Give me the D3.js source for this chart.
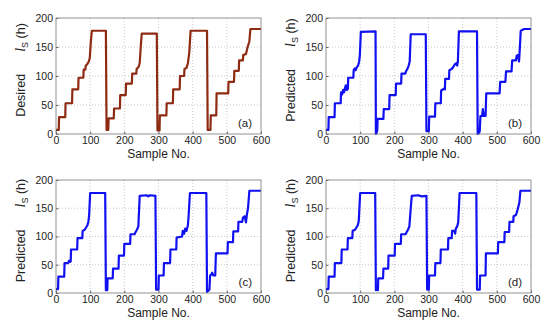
<!DOCTYPE html>
<html>
<head>
<meta charset="utf-8">
<script src="https://cdn.jsdelivr.net/npm/d3@7"></script>
<style>
  body { margin: 0; background: #fff; }
  svg { display: block; font-family: Arial, "Liberation Sans", sans-serif; }
</style>
</head>
<body>
<svg width="550" height="331"></svg>
<script>
const xTicks = [0, 100, 200, 300, 400, 500, 600];
const yTicks = [0, 50, 100, 150, 200];

// (a) desired ls, [sample, hours]
const desired = [[0,7],[8,7],[9,29],[27,29],[28,53],[47,53],[48,77],[65,77],[66,97],[80,97],[81,111],[86,111],[87,118],[91,120],[96,125],[99,132],[102,160],[105,178],[146,178],[148,7],[153,7],[154,27],[169,27],[170,44],[187,44],[188,67],[204,67],[205,87],[222,87],[223,104],[235,104],[236,112],[242,116],[245,122],[248,150],[251,173],[295,173],[297,6],[303,6],[304,32],[323,32],[324,53],[342,53],[343,77],[362,77],[363,100],[375,100],[376,112],[382,114],[386,122],[390,140],[394,178],[442,178],[444,7],[452,7],[453,32],[469,32],[470,70],[504,70],[505,90],[521,90],[522,109],[535,109],[536,127],[547,127],[548,136],[556,138],[560,148],[566,160],[569,181],[600,181]];

// (b) predicted
const predB = [[0,7],[7,7],[8,29],[25,29],[26,53],[43,53],[44,72],[47,68],[50,76],[53,72],[56,80],[58,84],[61,76],[64,78],[65,97],[80,97],[81,110],[84,113],[87,110],[90,115],[94,118],[97,125],[99,135],[102,176],[145,177],[146,0],[148,2],[150,6],[151,26],[168,26],[169,43],[185,43],[186,67],[204,67],[205,87],[220,87],[221,104],[232,104],[234,108],[238,112],[242,118],[245,125],[248,172],[292,172],[294,5],[301,5],[302,30],[319,30],[320,53],[336,53],[337,75],[345,78],[348,77],[349,95],[360,95],[361,110],[368,112],[372,115],[377,120],[381,122],[384,118],[386,125],[389,177],[442,177],[444,0],[448,2],[450,5],[452,31],[457,31],[459,43],[462,31],[467,31],[469,70],[508,70],[510,90],[525,90],[527,108],[543,108],[545,127],[556,127],[558,135],[562,136],[565,125],[567,145],[570,178],[580,181],[600,181]];

// (c) predicted
const predC = [[0,7],[6,7],[7,29],[24,29],[25,53],[36,53],[38,57],[41,55],[43,56],[44,77],[62,77],[63,97],[77,97],[78,110],[84,112],[88,116],[92,120],[95,127],[97,138],[100,177],[144,177],[146,5],[150,5],[151,26],[166,26],[167,43],[183,43],[184,66],[199,66],[200,87],[217,87],[218,104],[230,104],[233,108],[237,112],[241,118],[245,172],[265,173],[270,171],[275,173],[291,172],[293,6],[300,6],[301,31],[315,31],[316,53],[334,53],[335,77],[352,77],[353,98],[369,100],[371,110],[375,105],[378,114],[382,110],[386,120],[388,135],[392,177],[440,177],[442,2],[446,4],[449,6],[451,31],[455,33],[457,36],[460,31],[466,31],[468,70],[502,70],[503,90],[518,90],[519,109],[533,109],[534,126],[545,126],[547,133],[552,136],[556,125],[559,140],[562,150],[566,181],[600,181]];

// (d) predicted
const predD = [[0,7],[7,7],[8,29],[25,29],[26,53],[45,53],[46,77],[63,77],[64,97],[77,97],[78,110],[85,112],[89,116],[93,120],[96,128],[100,177],[144,177],[146,5],[149,8],[152,5],[153,26],[167,26],[168,43],[182,43],[183,66],[201,66],[202,87],[219,87],[220,104],[233,104],[236,108],[240,112],[244,118],[248,150],[251,172],[270,173],[280,171],[294,172],[296,6],[301,6],[302,31],[319,31],[320,53],[335,53],[336,77],[357,77],[358,97],[368,97],[369,110],[375,110],[378,105],[380,114],[384,118],[387,125],[391,177],[440,177],[442,6],[450,6],[451,31],[467,31],[468,70],[503,70],[504,90],[522,90],[523,108],[536,108],[537,126],[548,126],[549,136],[556,138],[561,148],[566,160],[569,181],[600,181]];

const panels = [
  { data: desired, tag: "(a)", word: "Desired",   color: "#8e2a12", x: 56,  y: 18,  w: 205, h: 116 },
  { data: predB,   tag: "(b)", word: "Predicted", color: "#1010f0", x: 326, y: 18,  w: 205, h: 116 },
  { data: predC,   tag: "(c)", word: "Predicted", color: "#1010f0", x: 56,  y: 180, w: 205, h: 113 },
  { data: predD,   tag: "(d)", word: "Predicted", color: "#1010f0", x: 326, y: 180, w: 205, h: 113 }
];

const svg = d3.select("svg");
const textColor = "#222";

panels.forEach(p => {
  const g = svg.append("g").attr("transform", `translate(${p.x},${p.y})`);

  const sx = d3.scaleLinear().domain([0, 600]).range([0, p.w]);
  const sy = d3.scaleLinear().domain([0, 200]).range([p.h, 0]);

  // dotted grid
  g.append("g")
    .selectAll("line")
    .data(xTicks.slice(1, -1))
    .join("line")
    .attr("x1", d => sx(d)).attr("x2", d => sx(d))
    .attr("y1", 0).attr("y2", p.h)
    .attr("stroke", "#bbb").attr("stroke-width", 0.8)
    .attr("stroke-dasharray", "1,2");
  g.append("g")
    .selectAll("line")
    .data(yTicks.slice(1, -1))
    .join("line")
    .attr("x1", 0).attr("x2", p.w)
    .attr("y1", d => sy(d)).attr("y2", d => sy(d))
    .attr("stroke", "#bbb").attr("stroke-width", 0.8)
    .attr("stroke-dasharray", "1,2");

  // series
  const line = d3.line().x(d => sx(d[0])).y(d => sy(d[1]));
  g.append("path")
    .datum(p.data)
    .attr("d", line)
    .attr("fill", "none")
    .attr("stroke", p.color)
    .attr("stroke-width", 2.2)
    .attr("stroke-linejoin", "round");

  // axes
  const ax = g.append("g")
    .attr("transform", `translate(0,${p.h})`)
    .call(d3.axisBottom(sx).tickValues(xTicks).tickSize(-2.5).tickPadding(3));
  const ay = g.append("g")
    .call(d3.axisLeft(sy).tickValues(yTicks).tickSize(-2.5).tickPadding(3));
  [ax, ay].forEach(a => {
    a.select(".domain").remove();
    a.selectAll(".tick line").attr("stroke", "#666");
    a.selectAll("text").attr("fill", textColor).style("font-size", "10.5px");
  });

  // box
  g.append("rect")
    .attr("width", p.w).attr("height", p.h)
    .attr("fill", "none").attr("stroke", "#777").attr("stroke-width", 0.8);

  // panel tag
  g.append("text")
    .attr("x", p.w - 9).attr("y", p.h - 7)
    .attr("text-anchor", "end")
    .attr("fill", textColor)
    .style("font-size", "11.5px")
    .text(p.tag);

  // x label
  g.append("text")
    .attr("x", p.w / 2).attr("y", p.h + 24)
    .attr("text-anchor", "middle")
    .attr("fill", textColor)
    .style("font-size", "12px")
    .text("Sample No.");

  // y label
  const yl = g.append("text")
    .attr("transform", `translate(-31,${p.h / 2 - 6}) rotate(-90)`)
    .attr("text-anchor", "middle")
    .attr("fill", textColor)
    .style("font-size", "12.5px");
  yl.append("tspan").text(p.word);
  yl.append("tspan").attr("dx", 22).attr("font-family", "'Liberation Serif', 'Times New Roman', serif")
    .attr("font-style", "italic").style("font-size", "14px").text("l");
  yl.append("tspan").attr("dy", 3).style("font-size", "9px").text("S");
  yl.append("tspan").attr("dy", -3).text(" (h)");
});
</script>
</body>
</html>
